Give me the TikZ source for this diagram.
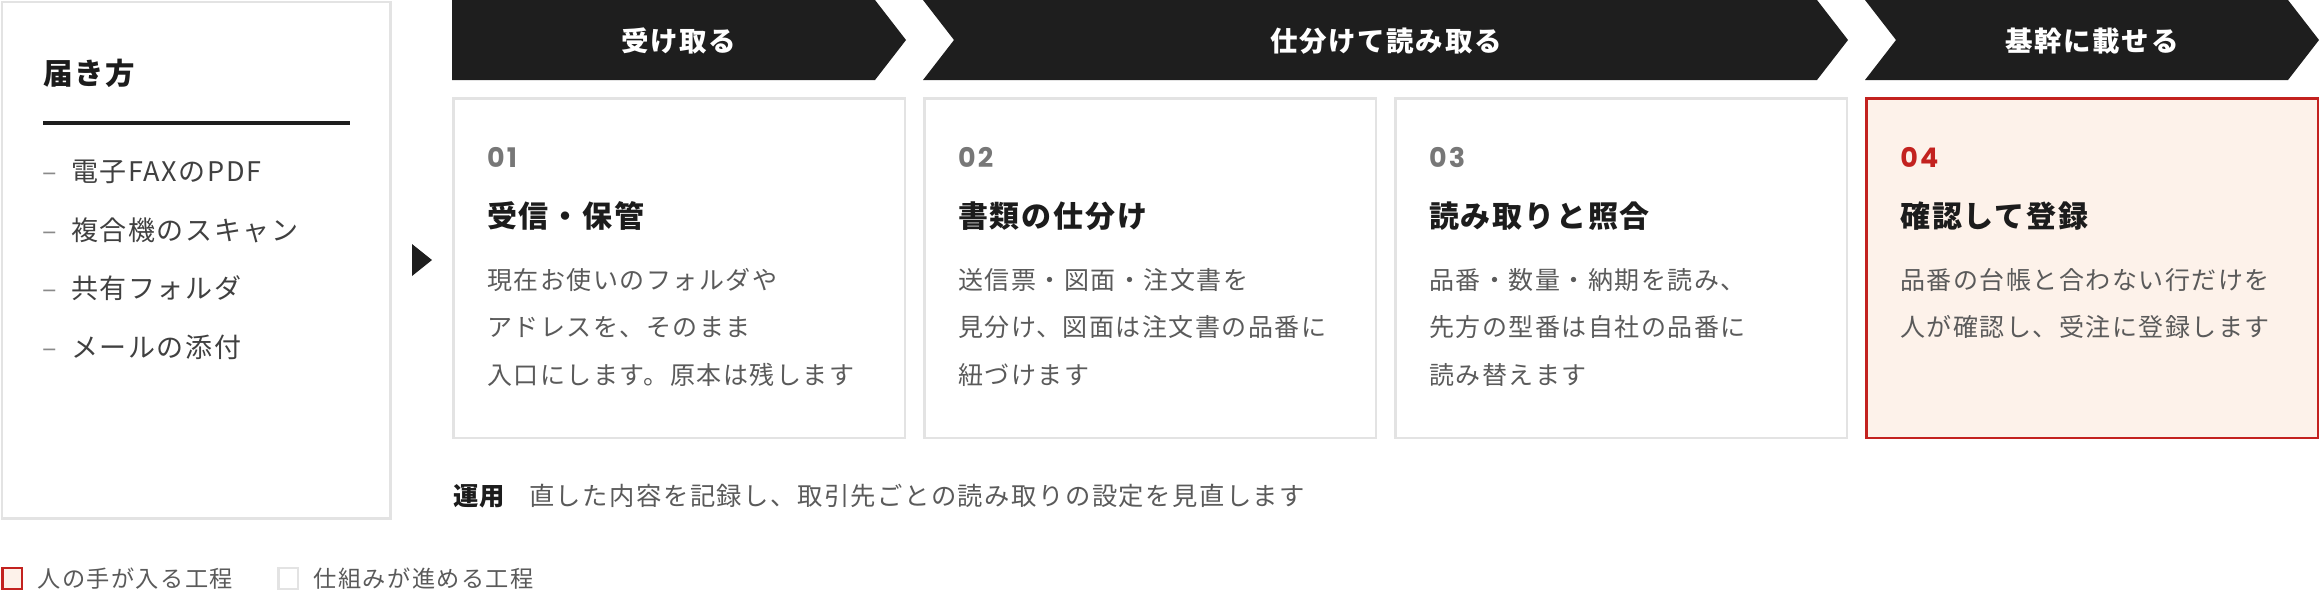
\documentclass[tikz,border=0pt]{standalone}
\usepackage{fontspec}
\setmainfont{Noto Sans CJK JP}[LetterSpace=6]
\newfontfamily\numfont{Poppins}[LetterSpace=8]
\usetikzlibrary{positioning}

\definecolor{ink}{HTML}{1E1E1E}
\definecolor{cardline}{HTML}{E3E3E3}
\definecolor{hired}{HTML}{C3221F}
\definecolor{hipeach}{HTML}{FDF2EA}
\definecolor{bodygray}{HTML}{5A5A5A}
\definecolor{listgray}{HTML}{404040}
\definecolor{dashgray}{HTML}{8A8A8A}
\definecolor{numgray}{HTML}{777777}
\definecolor{headink}{HTML}{1C1C1C}

\newcommand{\pxfont}[1]{\fontsize{#1}{#1}\selectfont}
\newcommand{\itemdash}{\makebox[29pt][l]{\color{dashgray}–}}

\begin{document}
\begin{tikzpicture}[x=1pt, y=-1pt,
     node distance = 19.6pt and 19.6pt,
every node/.style = {inner sep=0pt, outer sep=0pt},
       card/.style = {rectangle, draw=cardline, line width=2.5pt, minimum width=451.5pt, minimum height=339.5pt},
      hcard/.style = {card, draw=hired, fill=hipeach},
     keybox/.style = {rectangle, line width=2.5pt, minimum width=19.5pt, minimum height=21pt},
   stagetxt/.style = {text=white, font=\pxfont{27.5}\bfseries},
        num/.style = {text=numgray, font=\numfont\bfseries\pxfont{27}},
  cardtitle/.style = {text=headink, font=\pxfont{30}\bfseries},
       body/.style = {text=bodygray, align=left, font=\fontsize{25}{47.5}\selectfont},
    srchead/.style = {text=headink, font=\pxfont{29.5}\bfseries},
       item/.style = {text=listgray, font=\pxfont{27}},
    opshead/.style = {text=headink, font=\pxfont{25.3}\bfseries},
    opsbody/.style = {text=bodygray, font=\pxfont{25.3}},
     keytxt/.style = {text=bodygray, font=\pxfont{23.2}}
                        ]
\useasboundingbox (0,0) rectangle (2320,600);

% sources
\node (src) [card, minimum width=388.5pt, minimum height=516.5pt, anchor=north west] at (1.75,1.75) {};
\node (srctitle) [srchead, anchor=west] at (43,73) {届き方};
\draw[ink, line width=4pt] (43,123) -- (350,123);
\node (i1) [item, anchor=west] at (42,172) {\itemdash 電子FAXのPDF};
\node (i2) [item, anchor=west] at (42,230) {\itemdash 複合機のスキャン};
\node (i3) [item, anchor=west] at (42,288) {\itemdash 共有フォルダ};
\node (i4) [item, anchor=west] at (42,347) {\itemdash メールの添付};
\fill[ink] (412,244) -- (432,260) -- (412,276) -- cycle;

% stages
\fill[ink] (452,0) -- (875,0) -- (906,40) -- (875,80) -- (452,80) -- cycle;
\fill[ink] (923,0) -- (1817,0) -- (1848,40) -- (1817,80) -- (923,80) -- (954,40) -- cycle;
\fill[ink] (1865,0) -- (2288,0) -- (2319,40) -- (2288,80) -- (1865,80) -- (1896,40) -- cycle;
\node (s1) [stagetxt] at (679,41) {受け取る};
\node (s2) [stagetxt] at (1386,41) {仕分けて読み取る};
\node (s3) [stagetxt] at (2092,41) {基幹に載せる};

% steps
\node (c1) [card, anchor=north west] at (453.25,98.25) {};
\node (c2) [card, right=of c1] {};
\node (c3) [card, right=of c2] {};
\node (c4) [hcard, right=of c3] {};

\node (n1) [num, below right=48.75pt and 33.75pt of c1.north west] {01};
\node (t1) [cardtitle, below right=103.75pt and 33.75pt of c1.north west] {受信・保管};
\node (b1) [body, below right=169.75pt and 33.75pt of c1.north west] {現在お使いのフォルダや\\アドレスを、そのまま\\入口にします。原本は残します};

\node (n2) [num, below right=48.75pt and 33.75pt of c2.north west] {02};
\node (t2) [cardtitle, below right=103.75pt and 33.75pt of c2.north west] {書類の仕分け};
\node (b2) [body, below right=169.75pt and 33.75pt of c2.north west] {送信票・図面・注文書を\\見分け、図面は注文書の品番に\\紐づけます};

\node (n3) [num, below right=48.75pt and 33.75pt of c3.north west] {03};
\node (t3) [cardtitle, below right=103.75pt and 33.75pt of c3.north west] {読み取りと照合};
\node (b3) [body, below right=169.75pt and 33.75pt of c3.north west] {品番・数量・納期を読み、\\先方の型番は自社の品番に\\読み替えます};

\node (n4) [num, text=hired, below right=48.75pt and 33.75pt of c4.north west] {04};
\node (t4) [cardtitle, below right=103.75pt and 33.75pt of c4.north west] {確認して登録};
\node (b4) [body, below right=169.75pt and 33.75pt of c4.north west] {品番の台帳と合わない行だけを\\人が確認し、受注に登録します};

% operation
\node (ops) [opshead, anchor=west] at (453,496) {運用};
\node (opsnote) [opsbody, right=24pt of ops] {直した内容を記録し、取引先ごとの読み取りの設定を見直します};

% legend
\node (keyhand) [keybox, draw=hired, fill=hipeach] at (12,578.5) {};
\node (keyhandtxt) [keytxt, right=15.75pt of keyhand] {人の手が入る工程};
\node (keyauto) [keybox, draw=cardline, fill=white] at (288,578.5) {};
\node (keyautotxt) [keytxt, right=16pt of keyauto] {仕組みが進める工程};
\end{tikzpicture}
\end{document}
